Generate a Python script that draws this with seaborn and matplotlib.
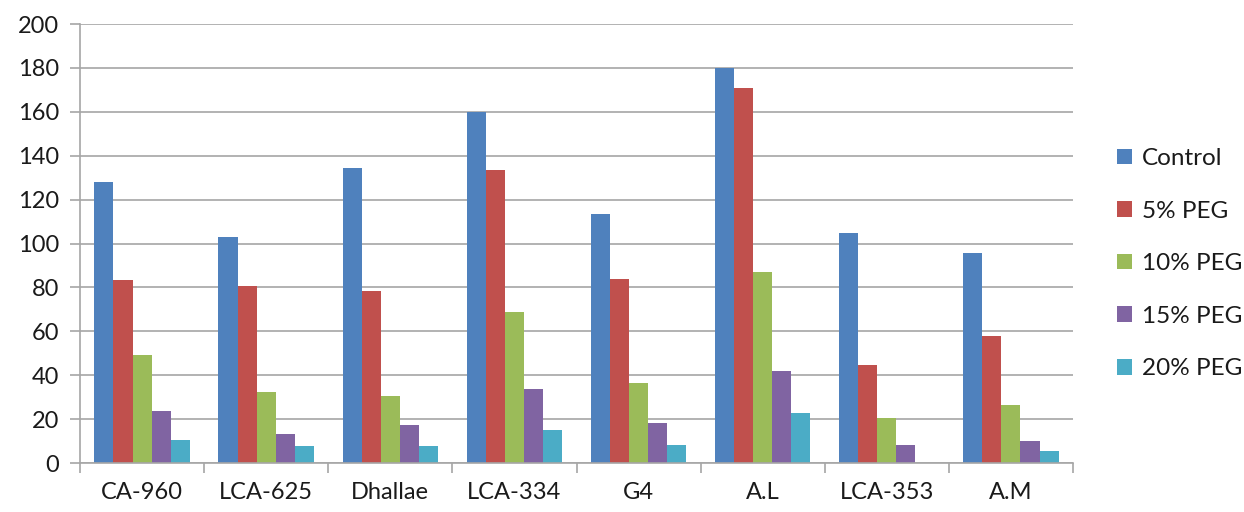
import matplotlib
matplotlib.use("Agg")
import matplotlib.pyplot as plt
import seaborn as sns
import pandas as pd
import numpy as np
from matplotlib.patches import Patch

genotypes = ["CA-960", "LCA-625", "Dhallae", "LCA-334", "G4", "A.L", "LCA-353", "A.M"]
treatments = ["Control", "5% PEG", "10% PEG", "15% PEG", "20% PEG"]

control = [128, 103, 134.5, 160, 113.5, 180, 104.8, 95.5]
peg5 = [83.2, 80.6, 78.2, 133.3, 83.6, 171, 44.7, 57.7]
peg10 = [49.1, 32.3, 30.5, 68.6, 36.6, 86.8, 20.3, 26.6]
peg15 = [23.6, 13.3, 17.4, 33.5, 18, 42.1, 8.2, 10]
peg20 = [10.6, 7.6, 7.6, 15.1, 8.2, 23, 0, 5.6]

colors = ["#4F81BD", "#C0504D", "#9BBB59", "#8064A2", "#4BACC6"]

series = [control, peg5, peg10, peg15, peg20]
rows = []
for t, vals in zip(treatments, series):
    for g, v in zip(genotypes, vals):
        rows.append({"Genotype": g, "Treatment": t, "Value": v})
df = pd.DataFrame(rows)

sns.set_theme(style="white")
plt.rcParams["font.family"] = ["Lato", "DejaVu Sans"]

fig = plt.figure(figsize=(12.44, 5.12), dpi=100)
ax = fig.add_axes([80 / 1244, 1 - 463 / 512, (1073 - 80) / 1244, (463 - 24) / 512])

sns.barplot(data=df, x="Genotype", y="Value", hue="Treatment",
            order=genotypes, hue_order=treatments, palette=colors,
            width=0.77, gap=0, linewidth=0, saturation=1, ax=ax, legend=False)

ax.set_ylim(0, 200)
ax.set_xlim(-0.5, len(genotypes) - 0.5)
ax.set_yticks(np.arange(0, 201, 20))
ax.yaxis.grid(True, color="#A6A6A6", linewidth=1.2)
ax.set_axisbelow(True)
ax.set_xlabel("")
ax.set_ylabel("")

for side in ["top", "right"]:
    ax.spines[side].set_visible(False)
for side in ["left", "bottom"]:
    ax.spines[side].set_color("#A6A6A6")
    ax.spines[side].set_linewidth(1.2)

ax.tick_params(axis="y", left=True, length=7, width=1.2, color="#A6A6A6",
               labelsize=17, labelcolor="#1a1a1a", pad=8)
ax.tick_params(axis="x", which="major", length=0, labelsize=17,
               labelcolor="#1a1a1a", pad=14)
ax.set_xticks(np.arange(-0.5, len(genotypes)), minor=True)
ax.tick_params(axis="x", which="minor", bottom=True, length=7, width=1.2,
               color="#A6A6A6")

handles = [Patch(facecolor=c, edgecolor="none", label=t) for c, t in zip(colors, treatments)]
fig.legend(handles=handles, loc="center left", bbox_to_anchor=(1117 / 1244, 0.485),
           frameon=False, fontsize=17.5, borderpad=0, borderaxespad=0,
           handlelength=0.6, handleheight=0.6,
           handletextpad=0.42, labelspacing=1.3, labelcolor="#1a1a1a")

fig.savefig("out.png", dpi=100)
